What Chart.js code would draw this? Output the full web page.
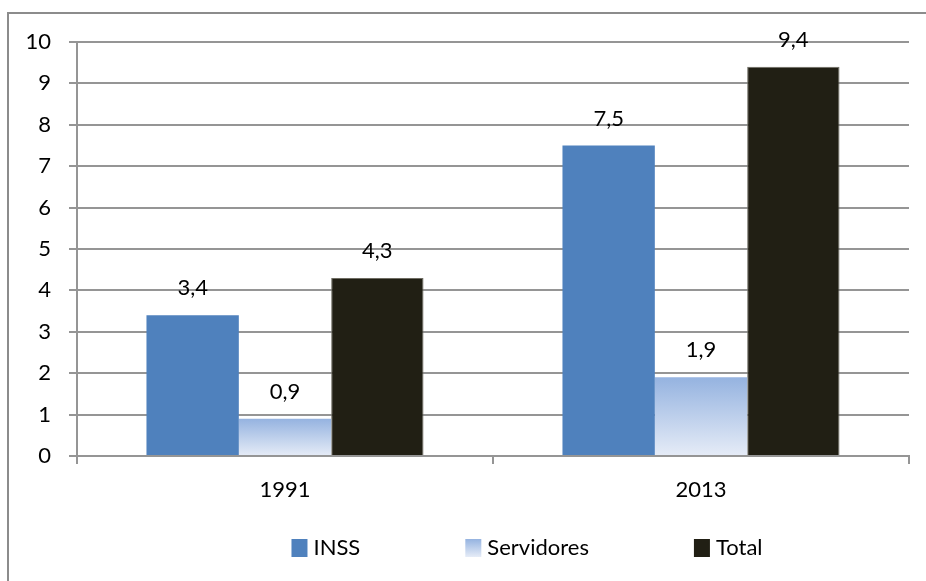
<!DOCTYPE html>
<html>
<head>
<meta charset="utf-8">
<script src="https://cdn.jsdelivr.net/npm/chart.js@4/dist/chart.umd.min.js"></script>
<style>
  html, body { margin: 0; padding: 0; background: #fff; }
  #wrap { position: relative; width: 926px; height: 581px; }
</style>
</head>
<body>
<div id="wrap"><canvas id="c" width="926" height="581"></canvas></div>
<script>
// ---- data ----
const categories = ['1991', '2013'];
const seriesNames = ['INSS', 'Servidores', 'Total'];
const inssValues = [3.4, 7.5];
const servidoresValues = [0.9, 1.9];
const totalValues = [4.3, 9.4];
const yMin = 0;
const yMax = 10;
const yStep = 1;

const FONT = 'Lato, "Liberation Sans", sans-serif';
const FSIZE = 22;
const GRID = '#959595';

function servGradient(c) {
  const chart = c.chart;
  const { ctx, chartArea, scales } = chart;
  if (!chartArea || c.type !== 'data') return '#b4c7ea';
  const top = scales.y.getPixelForValue(c.raw);
  const bot = scales.y.getPixelForValue(0);
  const g = ctx.createLinearGradient(0, top, 0, bot);
  g.addColorStop(0, '#95b3e0');
  g.addColorStop(1, '#e6ecf7');
  return g;
}

const framePlugin = {
  id: 'frame',
  beforeDraw(chart) {
    const ctx = chart.ctx;
    ctx.save();
    ctx.strokeStyle = '#8c8c8c';
    ctx.lineWidth = 2;
    ctx.beginPath();
    ctx.moveTo(8, chart.height);
    ctx.lineTo(8, 13);
    ctx.lineTo(chart.width, 13);
    ctx.stroke();
    ctx.restore();
  }
};

const valueLabels = {
  id: 'valueLabels',
  afterDatasetsDraw(chart) {
    const ctx = chart.ctx;
    ctx.save();
    ctx.font = FSIZE + 'px ' + FONT;
    ctx.fillStyle = '#000';
    ctx.textAlign = 'center';
    ctx.textBaseline = 'middle';
    chart.data.datasets.forEach((ds, i) => {
      const meta = chart.getDatasetMeta(i);
      meta.data.forEach((bar, j) => {
        const txt = String(ds.data[j]).replace('.', ',');
        ctx.fillText(txt, bar.x, bar.y - 27);
      });
    });
    ctx.restore();
  }
};

const customLegend = {
  id: 'customLegend',
  afterDraw(chart) {
    const ctx = chart.ctx;
    ctx.save();
    ctx.font = FSIZE + 'px ' + FONT;
    ctx.textBaseline = 'middle';
    ctx.textAlign = 'left';
    const boxW = 16, boxH = 18, textGap = 6, itemGap = 105;
    const items = chart.data.datasets.map(ds => ({ label: ds.label, w: boxW + textGap + ctx.measureText(ds.label).width }));
    const totalW = items.reduce((s, it) => s + it.w, 0) + itemGap * (items.length - 1);
    let x = 527 - totalW / 2;
    const yC = 548;
    chart.data.datasets.forEach((ds, i) => {
      if (ds.legendGradient) {
        const g = ctx.createLinearGradient(0, yC - boxH / 2, 0, yC + boxH / 2);
        g.addColorStop(0, '#95b3e0');
        g.addColorStop(1, '#e6ecf7');
        ctx.fillStyle = g;
      } else {
        ctx.fillStyle = ds.backgroundColor;
      }
      ctx.fillRect(x, yC - boxH / 2, boxW, boxH);
      ctx.fillStyle = '#000';
      ctx.fillText(ds.label, x + boxW + textGap, yC);
      x += items[i].w + itemGap;
    });
    ctx.restore();
  }
};

new Chart(document.getElementById('c'), {
  type: 'bar',
  data: {
    labels: categories,
    datasets: [
      { label: seriesNames[0], data: inssValues, backgroundColor: '#4f81bd' },
      { label: seriesNames[1], data: servidoresValues, backgroundColor: servGradient, legendGradient: true },
      { label: seriesNames[2], data: totalValues, backgroundColor: '#211f14', borderColor: '#6e6c62', borderWidth: 1 }
    ]
  },
  options: {
    responsive: false,
    animation: false,
    devicePixelRatio: 1,
    layout: { padding: { left: 0, top: 42, right: 17, bottom: 0 } },
    datasets: { bar: { categoryPercentage: 0.666, barPercentage: 1.0 } },
    plugins: {
      legend: { display: false },
      tooltip: { enabled: false },
      title: { display: false }
    },
    scales: {
      x: {
        offset: true,
        grid: { display: true, drawOnChartArea: false, drawTicks: true, tickLength: 8, color: GRID, lineWidth: 2, offset: true },
        border: { display: true, color: GRID, width: 2 },
        ticks: { color: '#000', font: { family: FONT, size: FSIZE }, padding: 13 },
        afterFit(scale) { scale.height = 125; }
      },
      y: {
        min: yMin,
        max: yMax,
        grid: { color: GRID, lineWidth: 2, tickLength: 8, drawTicks: true },
        border: { display: true, color: GRID, width: 2 },
        ticks: { stepSize: yStep, color: '#000', font: { family: FONT, size: FSIZE }, padding: 18 },
        afterFit(scale) { scale.width = 77; }
      }
    }
  },
  plugins: [framePlugin, valueLabels, customLegend]
});
</script>
</body>
</html>
